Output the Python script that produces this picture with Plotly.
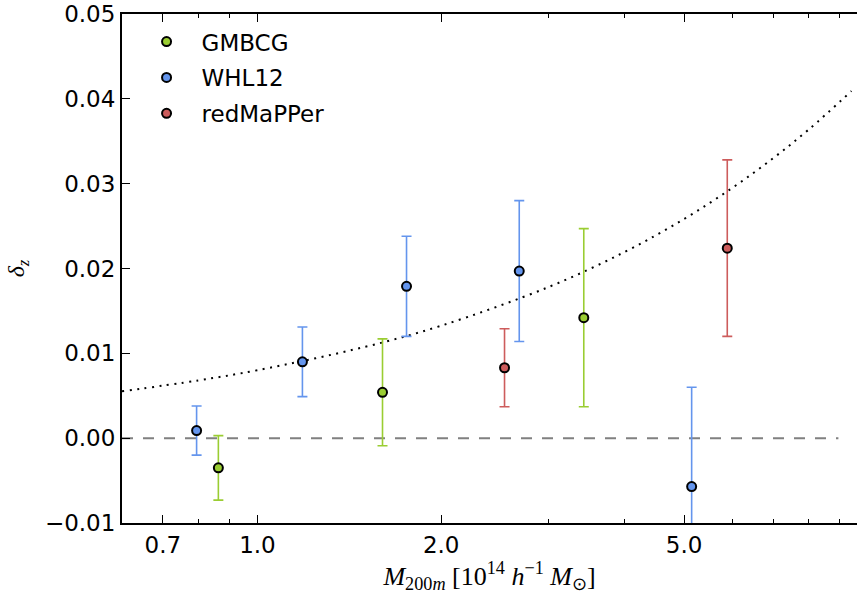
import math
import plotly.graph_objects as go

# Redshift bias delta_z versus cluster mass for three cluster catalogues
gmbcg_mass = [0.863, 1.603, 3.425]
gmbcg_dz = [-0.0035, 0.0054, 0.0142]
gmbcg_err = [0.0038, 0.0063, 0.0105]

whl12_mass = [0.795, 1.185, 1.755, 2.685, 5.145]
whl12_dz = [0.0009, 0.0090, 0.0179, 0.0197, -0.0057]
whl12_err = [0.0029, 0.0041, 0.0059, 0.0083, 0.0117]

redmapper_mass = [2.54, 5.885]
redmapper_dz = [0.0083, 0.0224]
redmapper_err = [0.0046, 0.0104]

# Model curve (dotted), sampled along the mass axis
model_mass = [0.6, 0.8, 1.0, 1.5, 2.0, 3.0, 4.0, 5.0, 6.0, 7.0, 8.0, 9.4]
model_dz = [0.00552, 0.00681, 0.00801, 0.01076, 0.01326, 0.01782,
            0.02197, 0.02584, 0.02951, 0.03301, 0.03638, 0.04091]

# Zero reference line
zero_mass = [0.6, 8.95]
zero_dz = [0.0, 0.0]

x_tick_vals = [0.7, 1.0, 2.0, 5.0]
x_tick_text = ["0.7", "1.0", "2.0", "5.0"]
x_minor_vals = [0.6, 0.8, 0.9, 3.0, 4.0, 6.0, 7.0, 8.0, 9.0]

GREEN = "#9ACD32"
BLUE = "#6495ED"
RED = "#CD5C5C"

fig = go.Figure()

fig.add_trace(go.Scatter(
    x=zero_mass, y=zero_dz, mode="lines",
    line=dict(color="#808080", width=2, dash="11px,10px"),
    showlegend=False, hoverinfo="skip"))

fig.add_trace(go.Scatter(
    x=model_mass, y=model_dz, mode="lines",
    line=dict(color="black", width=2, dash="2px,5.5px", shape="spline"),
    showlegend=False, hoverinfo="skip"))


def add_catalogue(name, mass, dz, err, color):
    fig.add_trace(go.Scatter(
        x=mass, y=dz, mode="markers", name=name, legendgroup=name,
        marker=dict(color=color, size=9, line=dict(color="black", width=2)),
        error_y=dict(type="data", array=err, visible=True,
                     color=color, thickness=1.6, width=5),
    ))


add_catalogue("GMBCG", gmbcg_mass, gmbcg_dz, gmbcg_err, GREEN)
add_catalogue("WHL12", whl12_mass, whl12_dz, whl12_err, BLUE)
add_catalogue("redMaPPer", redmapper_mass, redmapper_dz, redmapper_err, RED)

fig.update_layout(
    width=857, height=599,
    margin=dict(l=122, r=0, t=14, b=76),
    paper_bgcolor="white", plot_bgcolor="white",
    font=dict(family="DejaVu Sans", size=23, color="black"),
    legend=dict(x=0.013, y=0.988, xanchor="left", yanchor="top",
                bgcolor="rgba(0,0,0,0)", font=dict(size=23),
                itemwidth=60, tracegroupgap=3),
    xaxis=dict(
        type="log", range=[math.log10(0.6), math.log10(9.6)],
        tickmode="array", tickvals=x_tick_vals, ticktext=x_tick_text,
        ticks="inside", ticklen=8, tickwidth=1, tickcolor="black",
        showline=True, linewidth=2, linecolor="black", mirror="ticks",
        showgrid=False, zeroline=False,
        minor=dict(tickmode="array", tickvals=x_minor_vals, ticks="inside",
                   ticklen=4, tickwidth=1, tickcolor="black", showgrid=False),
        title=dict(
            text="<i>M</i><sub>200<i>m</i></sub> [10<sup>14</sup> <i>h</i><sup>\u22121</sup> <i>M</i><sub>\u2299</sub>]",
            font=dict(family="Liberation Serif", size=26), standoff=4),
    ),
    yaxis=dict(
        range=[-0.01, 0.05], tickmode="linear", tick0=0, dtick=0.01,
        tickformat=".2f",
        ticks="inside", ticklen=8, tickwidth=1, tickcolor="black",
        showline=True, linewidth=2, linecolor="black",
        showgrid=False, zeroline=False,
        title=dict(text="<i>\u03b4</i><sub><i>z</i></sub>",
                   font=dict(family="Liberation Serif", size=24), standoff=14),
    ),
)

fig.write_html("out.html")
